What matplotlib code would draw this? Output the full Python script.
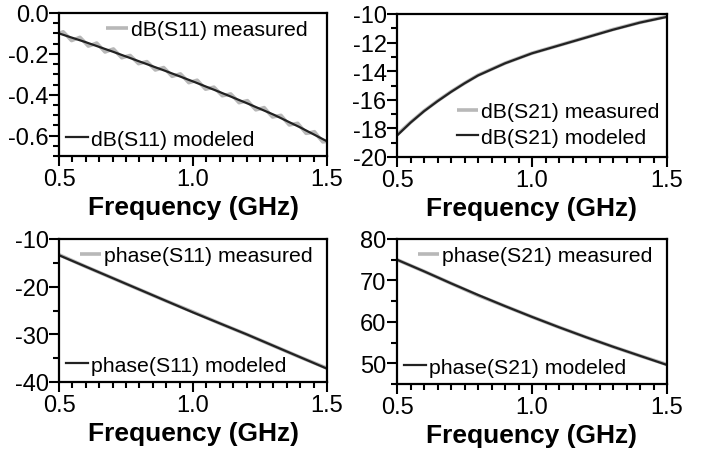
import matplotlib
matplotlib.use("Agg")
import matplotlib.pyplot as plt
from matplotlib.ticker import MultipleLocator, FormatStrFormatter
import numpy as np

plt.rcParams['font.family'] = ['Liberation Sans', 'DejaVu Sans']
plt.rcParams['axes.unicode_minus'] = False

# modeled curves, sampled every 0.1 GHz
freq = [0.5, 0.6, 0.7, 0.8, 0.9, 1.0, 1.1, 1.2, 1.3, 1.4, 1.5]
s11_db_mod = [-0.100, -0.143, -0.189, -0.237, -0.285, -0.335, -0.387, -0.441, -0.497, -0.560, -0.628]
s11_ph_mod = [-13.4, -15.8, -18.2, -20.6, -23.0, -25.4, -27.7, -30.0, -32.4, -34.8, -37.2]
s21_ph_mod = [75.0, 72.2, 69.3, 66.5, 63.8, 61.2, 58.7, 56.3, 54.0, 51.8, 49.6]

# S21 magnitude bends more at the low end, so it is read on a denser grid
freq_s21 = [0.5, 0.55, 0.6, 0.65, 0.7, 0.75, 0.8, 0.9, 1.0, 1.1, 1.2, 1.3, 1.4, 1.5]
s21_db_mod = [-18.5, -17.6, -16.8, -16.1, -15.45, -14.85, -14.3, -13.45, -12.75,
              -12.2, -11.65, -11.1, -10.6, -10.2]
s21_db_meas = [-18.45, -17.58, -16.78, -16.08, -15.43, -14.84, -14.28, -13.44, -12.74,
               -12.19, -11.64, -11.08, -10.59, -10.17]

# measured phases
s11_ph_meas = [-13.3, -15.8, -18.2, -20.6, -23.0, -25.3, -27.7, -30.0, -32.4, -34.8, -37.1]
s21_ph_meas = [75.0, 72.2, 69.3, 66.4, 63.8, 61.2, 58.7, 56.3, 54.0, 51.8, 49.7]

# measured S11 magnitude has a small ripple, read at a finer grid
freq_fine = np.linspace(0.5, 1.5, 65)
s11_db_meas = [-0.100, -0.092, -0.113, -0.135, -0.127, -0.119, -0.140, -0.162,
               -0.155, -0.147, -0.169, -0.191, -0.183, -0.176, -0.198, -0.219,
               -0.213, -0.208, -0.228, -0.248, -0.243, -0.238, -0.258, -0.279,
               -0.273, -0.267, -0.288, -0.310, -0.304, -0.298, -0.319, -0.341,
               -0.335, -0.329, -0.351, -0.373, -0.368, -0.363, -0.384, -0.405,
               -0.401, -0.396, -0.417, -0.439, -0.434, -0.429, -0.452, -0.474,
               -0.469, -0.463, -0.487, -0.509, -0.505, -0.501, -0.525, -0.548,
               -0.544, -0.540, -0.564, -0.589, -0.586, -0.581, -0.607, -0.631,
               -0.628]

MEAS_C = '#b8b8b8'
MOD_C = '#222222'

fig = plt.figure(figsize=(7.02, 4.52), dpi=100)

boxes = [
    [59 / 702, 1 - 157 / 452, 268 / 702, 143 / 452],
    [397 / 702, 1 - 158 / 452, 270 / 702, 143 / 452],
    [59 / 702, 1 - 383 / 452, 268 / 702, 143 / 452],
    [397 / 702, 1 - 385 / 452, 270 / 702, 145 / 452],
]

# meas_anchor: where the top-right corner of the "measured" legend sits
panels = [
    dict(xm=freq_fine, ym=s11_db_meas, xd=freq, yd=s11_db_mod, name='dB(S11)',
         ylim=(-0.7, 0.0), major=0.2, minor=0.05, fmt='%.1f',
         meas_anchor=(0.955, 1.0), together=False),
    dict(xm=freq_s21, ym=s21_db_meas, xd=freq_s21, yd=s21_db_mod, name='dB(S21)',
         ylim=(-20, -10), major=2, minor=1, fmt='%d',
         meas_anchor=None, together=True),
    dict(xm=freq, ym=s11_ph_meas, xd=freq, yd=s11_ph_mod, name='phase(S11)',
         ylim=(-40, -10), major=10, minor=5, fmt='%d',
         meas_anchor=(0.975, 1.0), together=False),
    dict(xm=freq, ym=s21_ph_meas, xd=freq, yd=s21_ph_mod, name='phase(S21)',
         ylim=(45, 80), major=10, minor=5, fmt='%d',
         meas_anchor=(0.975, 1.0), together=False),
]

leg_kw = dict(frameon=False, fontsize=15.3, handlelength=1.0, handletextpad=0.15,
              borderaxespad=0.25, borderpad=0.1)

for box, p in zip(boxes, panels):
    ax = fig.add_axes(box)
    lm, = ax.plot(p['xm'], p['ym'], color=MEAS_C, lw=2.6, solid_capstyle='butt')
    ld, = ax.plot(p['xd'], p['yd'], color=MOD_C, lw=1.6)
    ax.set_xlim(0.5, 1.5)
    ax.set_ylim(*p['ylim'])
    ax.xaxis.set_major_locator(MultipleLocator(0.5))
    ax.xaxis.set_minor_locator(MultipleLocator(0.05))
    ax.xaxis.set_major_formatter(FormatStrFormatter('%.1f'))
    ax.yaxis.set_major_locator(MultipleLocator(p['major']))
    ax.yaxis.set_minor_locator(MultipleLocator(p['minor']))
    ax.yaxis.set_major_formatter(FormatStrFormatter(p['fmt']))
    ax.tick_params(which='major', direction='out', length=7, width=1.5,
                   labelsize=17, pad=0.5)
    ax.tick_params(which='minor', direction='out', length=4, width=1.5)
    ax.tick_params(axis='x', which='major', pad=1.5)
    for s in ax.spines.values():
        s.set_linewidth(1.6)
    ax.set_xlabel('Frequency (GHz)', fontsize=19, fontweight='bold', labelpad=4)

    if p['together']:
        ax.legend([lm, ld], [p['name'] + ' measured', p['name'] + ' modeled'],
                  loc='lower right', bbox_to_anchor=(1.0, 0.02),
                  labelspacing=0.3, **leg_kw)
    else:
        leg1 = ax.legend([lm], [p['name'] + ' measured'], loc='upper right',
                         bbox_to_anchor=p['meas_anchor'], **leg_kw)
        ax.add_artist(leg1)
        ax.legend([ld], [p['name'] + ' modeled'], loc='lower left', **leg_kw)

fig.savefig('out.png', dpi=100)
